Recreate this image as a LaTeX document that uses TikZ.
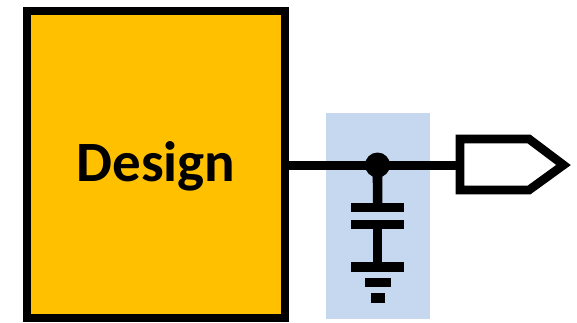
\documentclass[tikz,border=0pt]{standalone}
\usepackage{fontspec}
\setmainfont{Carlito}
\definecolor{gold}{HTML}{FFC000}
\definecolor{paleblue}{HTML}{C6D8EF}
\tikzset{
  x=1pt,y=-1pt,
  wire/.style={line width=9pt,draw=black},
  plate/.style={fill=black,draw=none,inner sep=0pt,outer sep=0pt,minimum width=#1,minimum height=9.2pt},
}
\begin{document}
\begin{tikzpicture}
\useasboundingbox (0,0) rectangle (577,322);
\node[fill=paleblue,inner sep=0pt,outer sep=0pt,minimum width=104pt,minimum height=205.7pt] (band) at (377.7,215.9) {};
\node[draw=black,fill=gold,line width=8.7pt,inner sep=0pt,outer sep=0pt,minimum width=258pt,minimum height=307pt] (design) at (156,164.5) {};
\node[anchor=base,font=\bfseries,inner sep=0pt] (label) at (156,181.7) {\fontsize{57}{57}\selectfont Design};
\coordinate (port) at (460,165);
\coordinate (p1) at (529,139);
\coordinate (p2) at (563.5,165);
\coordinate (p3) at (529,190);
\coordinate (p4) at (460,190);
\coordinate (p5) at (460,139);
\draw[line width=8.7pt,fill=white,miter limit=10] (p5) -- (p1) -- (p2) -- (p3) -- (p4) -- cycle;
\node[circle,fill=black,inner sep=0pt,outer sep=0pt,minimum size=25pt] (dot) at (377.5,165) {};
\draw[wire] (design.east |- port) -- (port);
\node[plate=52.7pt] (c1) at (377.6,207.2) {};
\node[plate=52.7pt] (c2) at (377.6,224.5) {};
\node[plate=52.7pt] (c3) at (377.6,267) {};
\node[plate=26pt] (g1) at (377.7,282.8) {};
\node[plate=14pt] (g2) at (377.7,298) {};
\draw[line width=9.6pt] (dot.center) -- (c1.center);
\draw[line width=9.6pt] (c2.center) -- (c3.center);
\end{tikzpicture}
\end{document}
